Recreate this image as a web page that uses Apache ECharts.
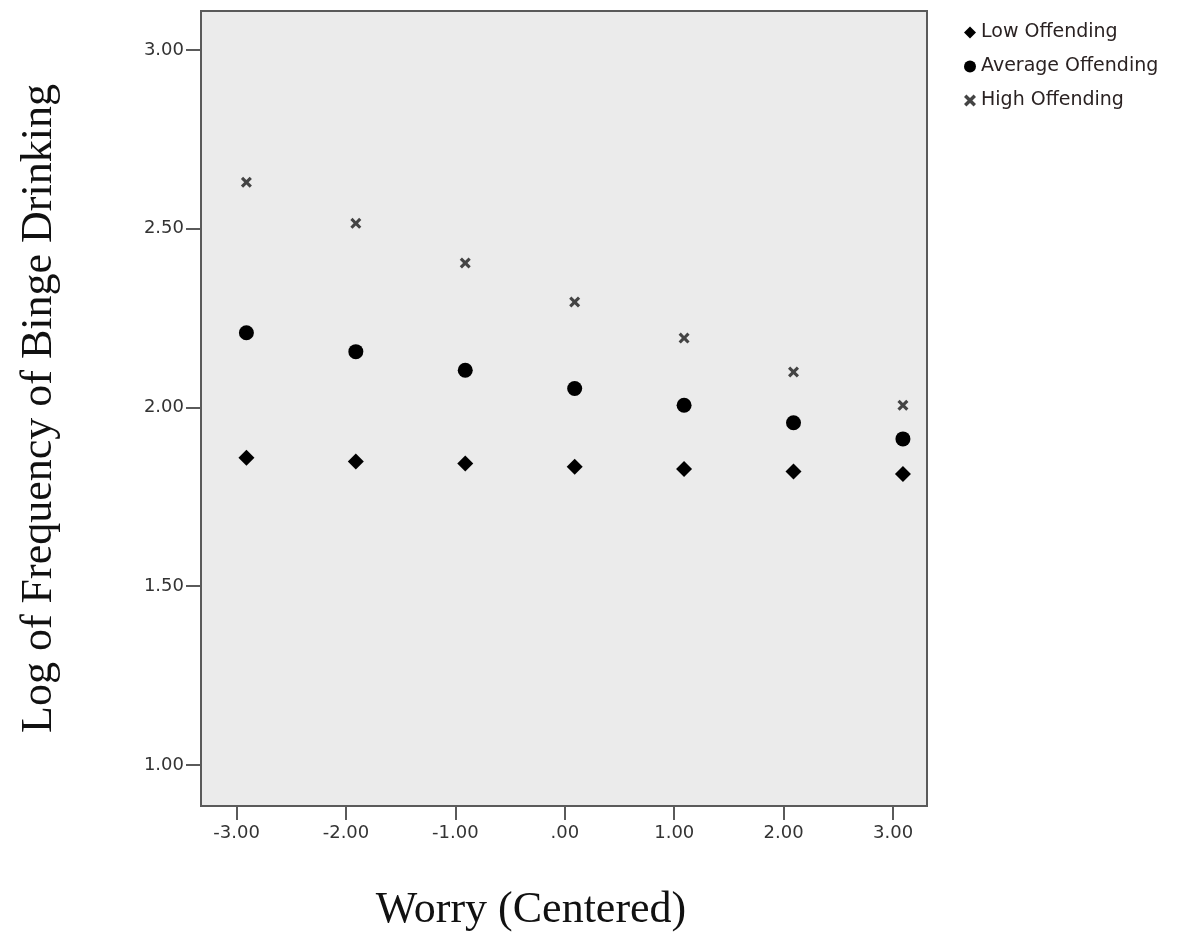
<!DOCTYPE html>
<html>
<head>
<meta charset="utf-8">
<script src="https://cdn.jsdelivr.net/npm/echarts@6/dist/echarts.min.js"></script>
<style>
html,body{margin:0;padding:0;background:#fff;}
#chart{width:1190px;height:939px;}
</style>
</head>
<body>
<div id="chart"></div>
<script>
// Data
const worryX = [-2.91, -1.91, -0.91, 0.09, 1.09, 2.09, 3.09];
const lowOffending = [1.859, 1.849, 1.843, 1.834, 1.828, 1.821, 1.814];
const averageOffending = [2.209, 2.156, 2.104, 2.053, 2.006, 1.957, 1.912];
const highOffending = [2.630, 2.515, 2.404, 2.295, 2.194, 2.099, 2.006];
const xTicks = [-3, -2, -1, 0, 1, 2, 3];
const yTicks = [1.0, 1.5, 2.0, 2.5, 3.0];
const seriesNames = ['Low Offending', 'Average Offending', 'High Offending'];

const pair = (xs, ys) => xs.map((x, i) => [x, ys[i]]);
const xPath = 'path://M2,0 L5,3 L8,0 L10,2 L7,5 L10,8 L8,10 L5,7 L2,10 L0,8 L3,5 L0,2 Z';

const fmtX = v => {
  const s = Math.abs(v).toFixed(2);
  if (v === 0) return '.00';
  return (v < 0 ? '-' : '') + s;
};

const chart = echarts.init(document.getElementById('chart'));
chart.setOption({
  animation: false,
  backgroundColor: '#ffffff',
  grid: {
    left: 201, right: 263, top: 11, bottom: 133,
    show: true, backgroundColor: '#ebebeb', borderColor: '#5a5a5a', borderWidth: 2
  },
  legend: {
    orient: 'vertical', left: 959, top: 18, itemGap: 15,
    itemWidth: 12, itemHeight: 12,
    textStyle: { fontFamily: 'DejaVu Sans', fontSize: 19, color: '#2a2222' },
    data: [
      { name: seriesNames[0], icon: 'diamond' },
      { name: seriesNames[1], icon: 'circle' },
      { name: seriesNames[2], icon: xPath, itemStyle: { color: '#444' } }
    ]
  },
  xAxis: {
    type: 'value', min: -3.325, max: 3.31,
    splitLine: { show: false },
    axisLine: { show: true, onZero: false, lineStyle: { color: '#5a5a5a', width: 2 } },
    axisTick: { show: true, length: 14, customValues: xTicks, lineStyle: { color: '#5a5a5a', width: 2 } },
    axisLabel: { customValues: xTicks, formatter: fmtX, margin: 18, fontFamily: 'DejaVu Sans', fontSize: 18, color: '#333' },
    name: 'Worry (Centered)', nameLocation: 'middle', nameGap: 82,
    nameTextStyle: { fontFamily: 'Liberation Serif', fontSize: 44, color: '#111', padding: [0, 66, 0, 0] }
  },
  yAxis: {
    type: 'value', min: 0.885, max: 3.109,
    splitLine: { show: false },
    axisLine: { show: true, onZero: false, lineStyle: { color: '#5a5a5a', width: 2 } },
    axisTick: { show: true, length: 15, customValues: yTicks, lineStyle: { color: '#5a5a5a', width: 2 } },
    axisLabel: { customValues: yTicks, formatter: v => v.toFixed(2), margin: 17, fontFamily: 'DejaVu Sans', fontSize: 18, color: '#333' },
    name: 'Log of Frequency of Binge Drinking', nameLocation: 'middle', nameGap: 140,
    nameTextStyle: { fontFamily: 'Liberation Serif', fontSize: 44, color: '#111' }
  },
  series: [
    { name: seriesNames[0], type: 'scatter', symbol: 'diamond', symbolSize: 16,
      itemStyle: { color: '#000', opacity: 1 }, data: pair(worryX, lowOffending) },
    { name: seriesNames[1], type: 'scatter', symbol: 'circle', symbolSize: 15,
      itemStyle: { color: '#000', opacity: 1 }, data: pair(worryX, averageOffending) },
    { name: seriesNames[2], type: 'scatter', symbol: xPath, symbolSize: 11,
      itemStyle: { color: '#444', opacity: 1 }, data: pair(worryX, highOffending) }
  ]
});
</script>
</body>
</html>
